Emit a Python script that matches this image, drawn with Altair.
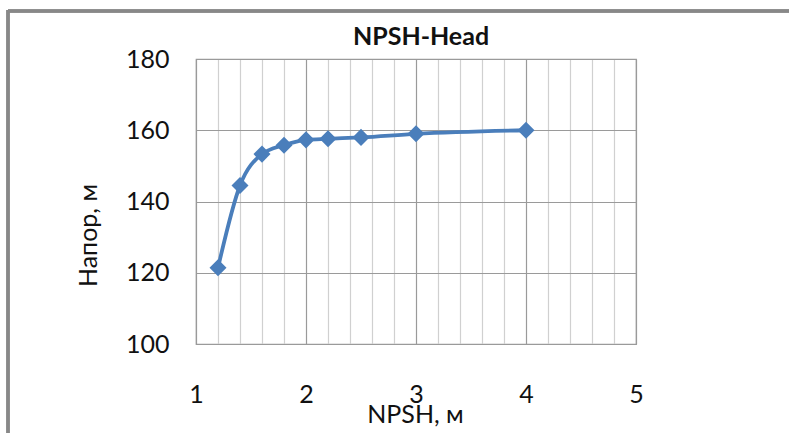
import altair as alt
import pandas as pd

npsh = [1.2, 1.4, 1.6, 1.8, 2.0, 2.2, 2.5, 3.0, 4.0]
head = [121.4, 144.5, 153.3, 155.8, 157.3, 157.6, 158.0, 159.0, 160.0]
x_ticks = [1, 1.2, 1.4, 1.6, 1.8, 2, 2.2, 2.4, 2.6, 2.8, 3, 3.2, 3.4, 3.6, 3.8, 4, 4.2, 4.4, 4.6, 4.8, 5]
y_ticks = [100, 120, 140, 160, 180]
title_text = "NPSH-Head"

df = pd.DataFrame({"npsh": npsh, "head": head})
FONT = "Lato"
BLUE = "#4a7ebb"

x_enc = alt.X(
    "npsh:Q",
    scale=alt.Scale(domain=[1, 5], nice=False, zero=False),
    axis=alt.Axis(
        values=x_ticks,
        labelExpr="abs(datum.value - round(datum.value)) < 1e-9 ? format(datum.value, 'd') : ''",
        gridColor=alt.condition("abs(datum.value - round(datum.value)) < 1e-9", alt.value("#9a9a9a"), alt.value("#d0d0d0")),
        gridWidth=1.2,
        ticks=False,
        domain=False,
        labelFlush=False,
        labelPadding=38,
        labelFontSize=25,
        labelFont=FONT,
        labelColor="#111111",
        title="NPSH, м",
        titleFont=FONT,
        titleFontSize=25,
        titleFontWeight="normal",
        titleColor="#111111",
        titleX=219,
        titleY=70,
        titleBaseline="middle",
        titleAlign="center",
    ),
)
y_enc = alt.Y(
    "head:Q",
    scale=alt.Scale(domain=[100, 180], nice=False, zero=False),
    axis=alt.Axis(
        values=y_ticks,
        gridColor="#9a9a9a",
        gridWidth=1.2,
        ticks=False,
        domain=False,
        labelPadding=27,
        labelFontSize=25,
        labelFont=FONT,
        labelColor="#111111",
        title="Напор, м",
        titleFont=FONT,
        titleFontSize=25,
        titleFontWeight="normal",
        titleColor="#111111",
        titleX=-108,
        titleY=176,
        titleBaseline="middle",
        titleAlign="center",
        titleAngle=-90,
    ),
)

line = alt.Chart(df).mark_line(
    color=BLUE, strokeWidth=3.8, interpolate="monotone",
    point=alt.OverlayMarkDef(shape="diamond", size=290, filled=True, color=BLUE, opacity=1),
).encode(x=x_enc, y=y_enc)

title_df = pd.DataFrame({"t": [title_text]})
title_mark = alt.Chart(title_df).mark_text(
    font=FONT, fontSize=25, fontWeight="bold", color="#111111",
    align="center", baseline="alphabetic",
).encode(text="t:N", x=alt.value(225), y=alt.value(-14))

frame_top = alt.Chart(df).mark_rule(color="#888888", strokeWidth=2.5).encode(
    x=alt.value(-188), x2=alt.value(600), y=alt.value(-48)
)
frame_left = alt.Chart(df).mark_rule(color="#888888", strokeWidth=2.5).encode(
    x=alt.value(-188), y=alt.value(-49), y2=alt.value(380)
)

chart = alt.layer(line, title_mark, frame_top, frame_left).properties(
    width=440,
    height=285,
    padding={"left": 196, "top": 59, "right": 153, "bottom": 89},
    autosize=alt.AutoSizeParams(type="none"),
    background="white",
).configure_view(stroke="#9a9a9a", strokeWidth=1.2)

chart.save("out.html", embed_options={"renderer": "svg", "actions": False})
